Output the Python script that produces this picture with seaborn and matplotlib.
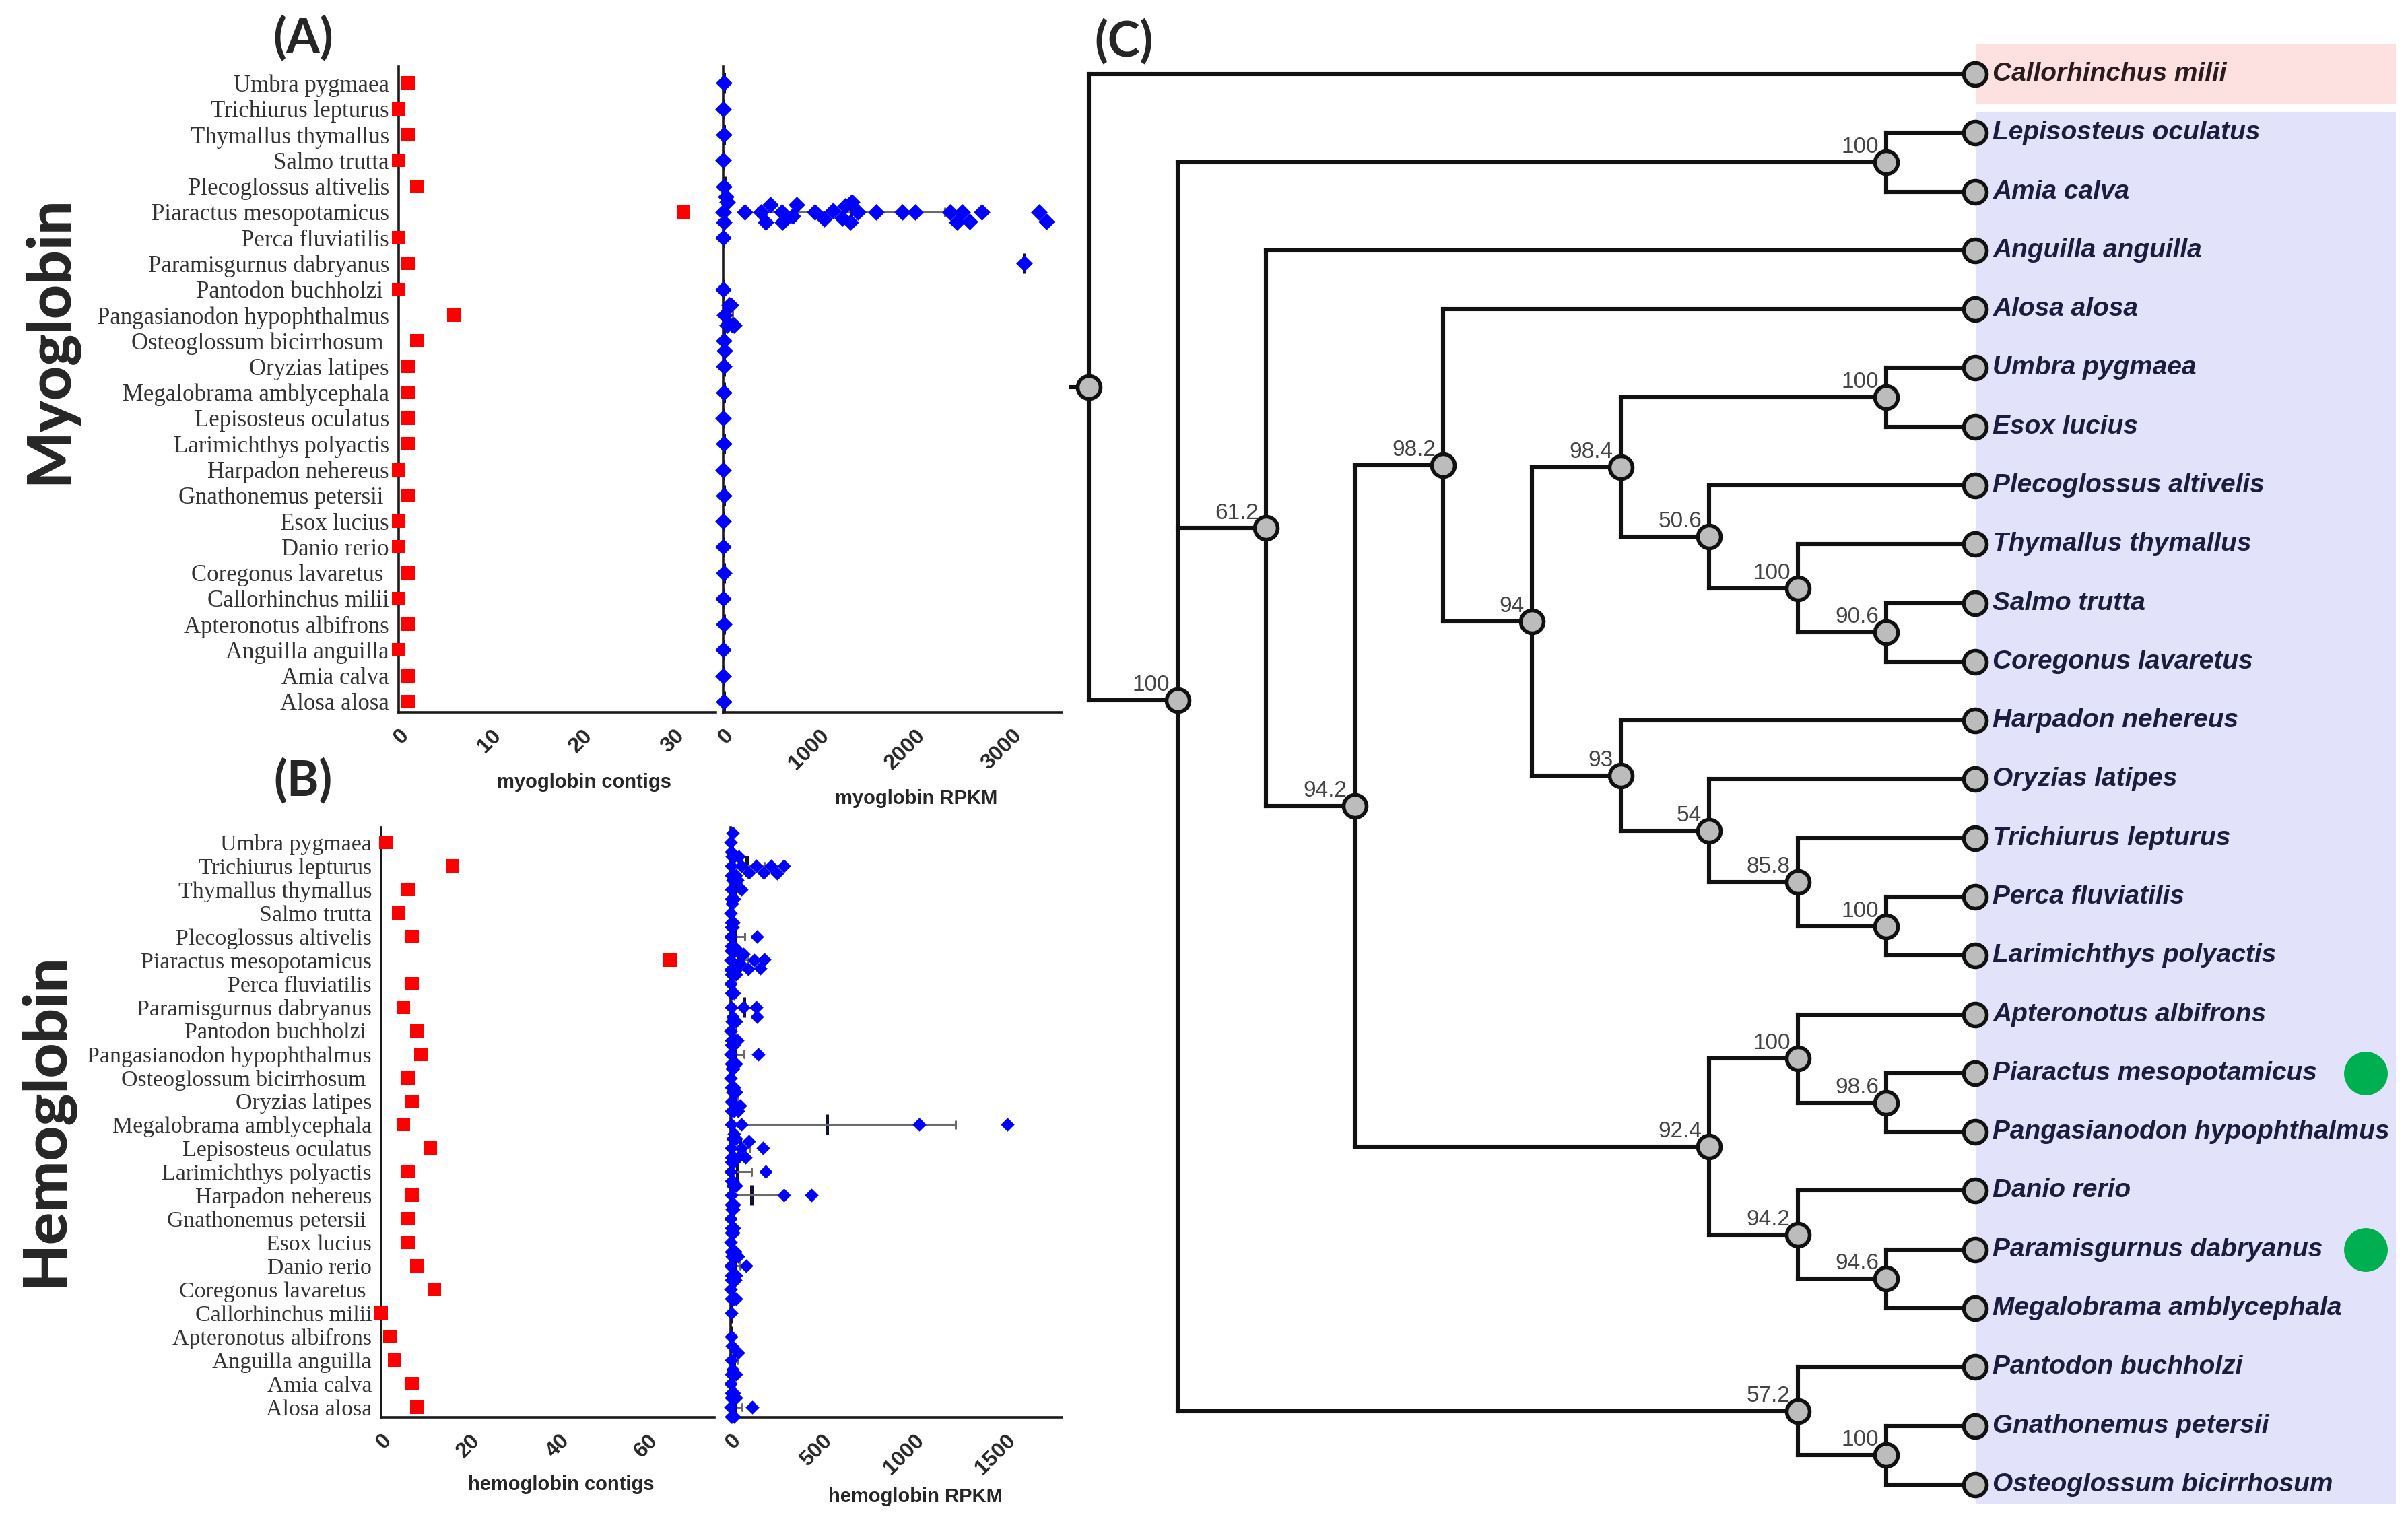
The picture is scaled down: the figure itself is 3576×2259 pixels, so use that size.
import numpy as np
import pandas as pd
import matplotlib.pyplot as plt
from matplotlib.patches import Rectangle
import seaborn as sns

W, H, DPI = 3576, 2259, 200

# species order used in panels A and B (top to bottom)
species = ["Umbra pygmaea", "Trichiurus lepturus", "Thymallus thymallus", "Salmo trutta",
           "Plecoglossus altivelis", "Piaractus mesopotamicus", "Perca fluviatilis",
           "Paramisgurnus dabryanus", "Pantodon buchholzi", "Pangasianodon hypophthalmus",
           "Osteoglossum bicirrhosum", "Oryzias latipes", "Megalobrama amblycephala",
           "Lepisosteus oculatus", "Larimichthys polyactis", "Harpadon nehereus",
           "Gnathonemus petersii", "Esox lucius", "Danio rerio", "Coregonus lavaretus",
           "Callorhinchus milii", "Apteronotus albifrons", "Anguilla anguilla",
           "Amia calva", "Alosa alosa"]
tick_names = [s + " " if s in ("Pantodon buchholzi", "Osteoglossum bicirrhosum",
                               "Gnathonemus petersii", "Coregonus lavaretus") else s
              for s in species]

mb_contigs = [1, 0, 1, 0, 2, 31, 0, 1, 0, 6, 2, 1, 1, 1, 1, 0, 1, 0, 0, 1, 0, 1, 0, 1, 1]
hb_contigs = [1, 16, 6, 4, 7, 65, 7, 5, 8, 9, 6, 7, 5, 11, 6, 7, 6, 6, 8, 12, 0, 2, 3, 7, 8]

mb_rpkm = [
    [4], [3], [5], [2], [6, 30],
    [0, 5, 40, 225, 390, 440, 490, 610, 615, 725, 765, 950, 1050, 1140, 1240, 1265,
     1325, 1340, 1400, 1590, 1865, 2000, 2365, 2430, 2490, 2565, 2690, 3290, 3365],
    [3], [3130], [2], [15, 40, 60, 75, 95, 110], [5, 15], [4], [6], [3], [5], [2],
    [4], [3], [2], [5], [2], [4], [2], [3], [4],
]
hb_rpkm = [
    [1, 5, 12],
    [2, 4, 6, 8, 10, 15, 20, 30, 45, 60, 100, 140, 180, 220, 255, 290],
    [2, 5, 10, 20, 35, 60],
    [1, 3, 8, 15],
    [1, 2, 4, 6, 10, 15, 145],
    [0, 1, 2, 3, 4, 5, 6, 8, 10, 12, 15, 20, 25, 30, 40, 50, 70, 95, 130, 160, 185],
    [1, 3, 5, 8, 12, 20, 30],
    [2, 10, 70, 138, 145],
    [1, 3, 6, 10, 15, 22, 30, 35],
    [1, 2, 4, 6, 10, 15, 20, 30, 150],
    [1, 3, 6, 10, 15, 20],
    [2, 5, 10, 20, 30, 40, 50],
    [5, 20, 60, 1030, 1510],
    [2, 5, 10, 20, 30, 40, 60, 80, 100, 175],
    [1, 3, 5, 10, 15, 190],
    [2, 5, 10, 20, 30, 290, 440],
    [1, 3, 6, 10, 15, 20],
    [1, 2, 5, 10, 15, 25],
    [1, 3, 6, 10, 20, 30, 40, 85],
    [1, 2, 4, 6, 8, 10, 12, 15, 18, 20, 25, 30],
    [2],
    [3, 8],
    [2, 10, 40],
    [1, 3, 5, 10, 15, 20, 30],
    [1, 3, 5, 8, 12, 20, 30, 118],
]

# cladogram (support value, children); leaves are species names
tree = ("", [
    "Callorhinchus milii",
    ("100", [
        ("100", ["Lepisosteus oculatus", "Amia calva"]),
        ("61.2", [
            "Anguilla anguilla",
            ("94.2", [
                ("98.2", [
                    "Alosa alosa",
                    ("94", [
                        ("98.4", [
                            ("100", ["Umbra pygmaea", "Esox lucius"]),
                            ("50.6", [
                                "Plecoglossus altivelis",
                                ("100", ["Thymallus thymallus",
                                         ("90.6", ["Salmo trutta", "Coregonus lavaretus"])]),
                            ]),
                        ]),
                        ("93", [
                            "Harpadon nehereus",
                            ("54", [
                                "Oryzias latipes",
                                ("85.8", ["Trichiurus lepturus",
                                          ("100", ["Perca fluviatilis", "Larimichthys polyactis"])]),
                            ]),
                        ]),
                    ]),
                ]),
                ("92.4", [
                    ("100", ["Apteronotus albifrons",
                             ("98.6", ["Piaractus mesopotamicus", "Pangasianodon hypophthalmus"])]),
                    ("94.2", ["Danio rerio",
                              ("94.6", ["Paramisgurnus dabryanus", "Megalobrama amblycephala"])]),
                ]),
            ]),
        ]),
        ("57.2", ["Pantodon buchholzi",
                  ("100", ["Gnathonemus petersii", "Osteoglossum bicirrhosum"])]),
    ]),
])
outgroup = ["Callorhinchus milii"]
highlighted = ["Piaractus mesopotamicus", "Paramisgurnus dabryanus"]

sns.set_style("white")
plt.rcParams["font.family"] = ["Liberation Sans", "DejaVu Sans"]


def px_axes(fig, x0, y0, x1, y1):
    return fig.add_axes([x0 / W, 1 - y1 / H, (x1 - x0) / W, (y1 - y0) / H])


def long_table(values):
    rows = [(sp, v) for sp, vals in zip(species, values) for v in vals]
    return pd.DataFrame(rows, columns=["species", "value"])


def style_axes(ax, xmax, ticks, xlabel, label_xy, ylim, show_names, name_size):
    sns.despine(ax=ax)
    for s in ("left", "bottom"):
        ax.spines[s].set_linewidth(1.3)
        ax.spines[s].set_color("#1a1a1a")
    ax.set_facecolor("none")
    ax.set_xlim(0, xmax)
    ax.set_ylim(*ylim)
    ax.set_xticks(ticks)
    ax.set_xticklabels([str(t) for t in ticks], rotation=45, ha="right",
                       rotation_mode="anchor", fontweight="bold", fontsize=11.5)
    ax.set_yticks(range(len(species)))
    if show_names:
        ax.set_yticklabels(tick_names, fontfamily="Liberation Serif",
                           fontsize=name_size, color="#333333")
    else:
        ax.set_yticklabels([])
    ax.tick_params(axis="y", length=4, width=1.3, pad=1, color="#1a1a1a")
    ax.tick_params(axis="x", length=4, width=1.3, pad=3, color="#1a1a1a")
    ax.set_ylabel("")
    ax.set_xlabel(xlabel, fontweight="bold", fontsize=10.5, va="top")
    ax.xaxis.set_label_coords(*label_xy)


def contig_panel(ax, counts, xmax, ticks, xlabel, label_xy, ylim, name_size):
    df = pd.DataFrame({"species": species, "value": counts})
    sns.stripplot(data=df, x="value", y="species", order=species, jitter=False,
                  marker="s", size=7, color="#ff0000", linewidth=0, clip_on=False, ax=ax)
    style_axes(ax, xmax, ticks, xlabel, label_xy, ylim, True, name_size)


def rpkm_panel(ax, values, xmax, ticks, xlabel, label_xy, ylim, msize):
    df = long_table(values)
    sns.swarmplot(data=df, x="value", y="species", order=species, marker="D",
                  size=msize, color="#0000ff", linewidth=0, clip_on=False, ax=ax)
    sns.pointplot(data=df, x="value", y="species", order=species, errorbar="sd",
                  markers="|", linestyles="none", color="#111133", capsize=0.3,
                  markersize=11, markeredgewidth=1.8,
                  err_kws={"color": "#6a6a6a", "linewidth": 1.1}, ax=ax)
    style_axes(ax, xmax, ticks, xlabel, label_xy, ylim, False, 12)


fig = plt.figure(figsize=(W / DPI, H / DPI), dpi=DPI)

# panel A
ax_a1 = px_axes(fig, 592, 99, 1063, 1058)
contig_panel(ax_a1, mb_contigs, 34.5, [0, 10, 20, 30], "myoglobin contigs",
             (0.584, -0.094), (24.42, -0.64), 12.5)
ax_a2 = px_axes(fig, 1074, 99, 1577, 1058)
rpkm_panel(ax_a2, mb_rpkm, 3525, [0, 1000, 2000, 3000], "myoglobin RPKM",
           (0.569, -0.119), (24.42, -0.64), 6.3)

# panel B
ax_b1 = px_axes(fig, 566, 1229, 1061, 2105)
contig_panel(ax_b1, hb_contigs, 75, [0, 20, 40, 60], "hemoglobin contigs",
             (0.541, -0.098), (24.43, -0.63), 12.2)
ax_b2 = px_axes(fig, 1085, 1229, 1577, 2105)
rpkm_panel(ax_b2, hb_rpkm, 1808, [0, 500, 1000, 1500], "hemoglobin RPKM",
           (0.557, -0.119), (24.43, -0.63), 5.2)

# panel C: cladogram
axt = px_axes(fig, 1560, 0, W, H)
axt.set_xlim(-0.433, 14.886)
axt.set_ylim(24.62, -1.26)
axt.axis("off")


def height(node):
    if isinstance(node, str):
        return 0
    return 1 + max(height(c) for c in node[1])


depth = height(tree)
segments, inner, leaves = [], [], []


def place(node):
    if isinstance(node, str):
        y = len(leaves)
        leaves.append((depth, y, node))
        return depth, y
    kids = [place(c) for c in node[1]]
    x = depth - height(node)
    ys = [k[1] for k in kids]
    y = float(np.mean(ys))
    for kx, ky in kids:
        segments.append(([x, kx], [ky, ky]))
    segments.append(([x, x], [min(ys), max(ys)]))
    inner.append((x, y, node[0]))
    return x, y


root_x, root_y = place(tree)
segments.append(([root_x - 0.2, root_x], [root_y, root_y]))

lab_x0, lab_x1 = depth + 0.015, depth + 4.75
for name in outgroup:
    y = [l[1] for l in leaves if l[2] == name][0]
    axt.add_patch(Rectangle((lab_x0, y - 0.5), lab_x1 - lab_x0, 1.0,
                            facecolor="#fde1e1", edgecolor="none", zorder=0))
in_ys = [l[1] for l in leaves if l[2] not in outgroup]
axt.add_patch(Rectangle((lab_x0, min(in_ys) - 0.35), lab_x1 - lab_x0,
                        max(in_ys) - min(in_ys) + 0.68,
                        facecolor="#e2e2fa", edgecolor="none", zorder=0))

for xs, ys in segments:
    axt.plot(xs, ys, color="#111111", linewidth=2.2, solid_capstyle="projecting", zorder=2)

node_df = pd.DataFrame([(x, y) for x, y, _ in inner] + [(x, y) for x, y, _ in leaves],
                       columns=["x", "y"])
sns.scatterplot(data=node_df, x="x", y="y", s=150, color="#bcbcbc", edgecolor="#111111",
                linewidth=2.0, zorder=3, ax=axt, legend=False)

for x, y, lab in inner:
    if lab:
        axt.annotate(lab, (x, y), xytext=(-4, 5), textcoords="offset points",
                     ha="right", va="baseline", fontsize=12, color="#444444")

for x, y, name in leaves:
    axt.text(x + 0.2, y, name, fontsize=14, fontweight="bold", fontstyle="italic",
             va="center", ha="left",
             color="#2a1c1c" if name in outgroup else "#1c1c3e")

hl_y = [l[1] for l in leaves if l[2] in highlighted]
axt.scatter([depth + 4.41] * len(hl_y), hl_y, s=500, color="#00b050", zorder=3)
axt.set_xlabel("")
axt.set_ylabel("")

# panel letters and row titles
fig.text(450 / W, 1 - 57 / H, "(A)", fontsize=26, fontweight="bold", family="Lato",
         ha="center", va="center")
fig.text(450 / W, 1 - 1160 / H, "(B)", fontsize=26, fontweight="bold", family="Lato",
         ha="center", va="center")
fig.text(1669 / W, 1 - 62 / H, "(C)", fontsize=26, fontweight="bold", family="Lato",
         ha="center", va="center")
fig.text(74 / W, 1 - 505 / H, "Myoglobin", fontsize=32, fontweight="black", family="Lato",
         rotation=90, ha="center", va="center")
fig.text(68 / W, 1 - 1663 / H, "Hemoglobin", fontsize=32.5, fontweight="black", family="Lato",
         rotation=90, ha="center", va="center")

fig.savefig("out.png", dpi=DPI, facecolor="white")
